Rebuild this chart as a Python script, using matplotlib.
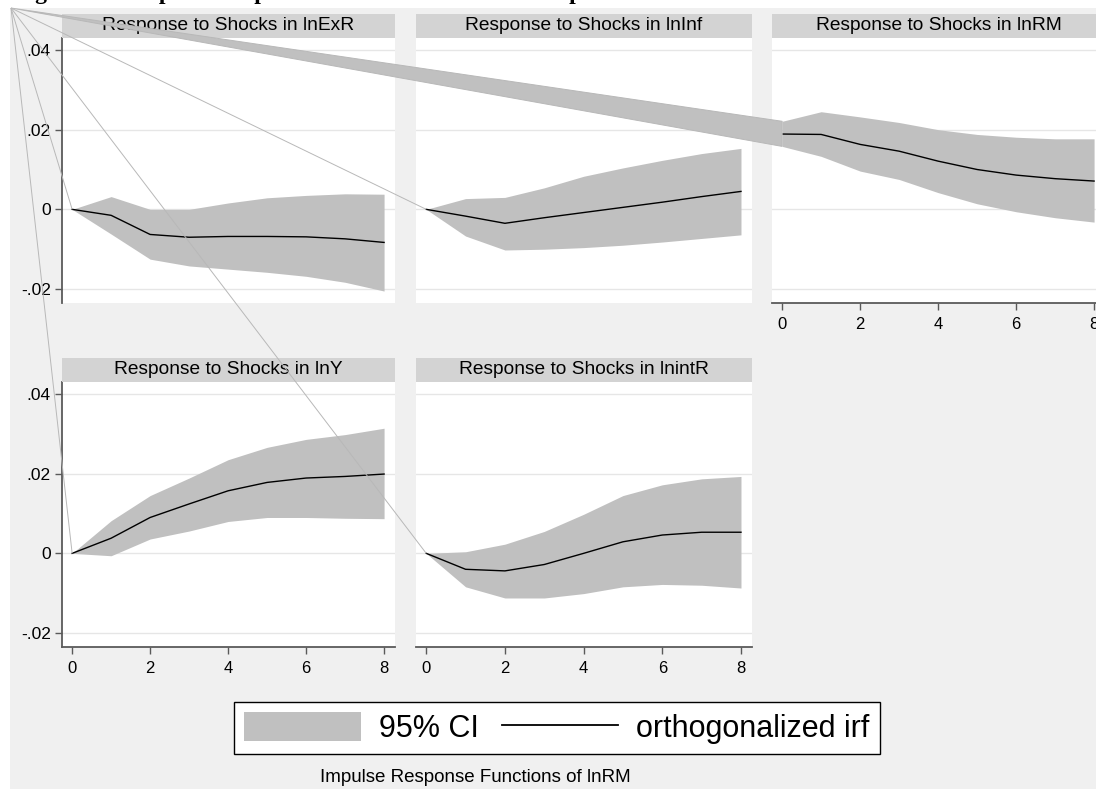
import matplotlib
matplotlib.use("Agg")
import matplotlib.pyplot as plt
from matplotlib.patches import Rectangle, Polygon, Patch
from matplotlib.lines import Line2D

plt.rcParams['font.family'] = ['Liberation Sans', 'DejaVu Sans']

W, H = 1096, 789

steps = [0, 1, 2, 3, 4, 5, 6, 7, 8]

# impulse = lnExR
lnExR_irf = [0, -0.0015, -0.0063, -0.0070, -0.0068, -0.0068, -0.0069, -0.0074, -0.0083]
lnExR_lo = [0, -0.0062, -0.0125, -0.0142, -0.0150, -0.0158, -0.0168, -0.0183, -0.0205]
lnExR_hi = [0, 0.0032, 0.0000, 0.0000, 0.0016, 0.0029, 0.0035, 0.0039, 0.0038]

# impulse = lnInf
lnInf_irf = [0, -0.0017, -0.0035, -0.0021, -0.0008, 0.0005, 0.0018, 0.0032, 0.0045]
lnInf_lo = [0, -0.0067, -0.0102, -0.0100, -0.0096, -0.0090, -0.0082, -0.0073, -0.0064]
lnInf_hi = [0, 0.0027, 0.0030, 0.0054, 0.0083, 0.0104, 0.0123, 0.0140, 0.0153]

# impulse = lnRM
lnRM_irf = [0.0189, 0.0188, 0.0163, 0.0146, 0.0121, 0.0100, 0.0086, 0.0077, 0.0071]
lnRM_lo = [0.0158, 0.0133, 0.0096, 0.0075, 0.0042, 0.0014, -0.0006, -0.0021, -0.0032]
lnRM_hi = [0.0221, 0.0245, 0.0232, 0.0218, 0.0200, 0.0188, 0.0181, 0.0177, 0.0177]

# impulse = lnY
lnY_irf = [0, 0.0038, 0.0090, 0.0124, 0.0157, 0.0178, 0.0189, 0.0193, 0.0199]
lnY_lo = [0, -0.0006, 0.0036, 0.0056, 0.0080, 0.0090, 0.0090, 0.0088, 0.0087]
lnY_hi = [0, 0.0082, 0.0145, 0.0189, 0.0235, 0.0266, 0.0286, 0.0298, 0.0314]

# impulse = lnintR
lnintR_irf = [0, -0.0040, -0.0044, -0.0028, 0.0000, 0.0029, 0.0046, 0.0053, 0.0053]
lnintR_lo = [0, -0.0084, -0.0112, -0.0112, -0.0101, -0.0084, -0.0078, -0.0080, -0.0087]
lnintR_hi = [0, 0.0004, 0.0023, 0.0055, 0.0098, 0.0145, 0.0172, 0.0187, 0.0193]

titles = ["Response to Shocks in lnExR", "Response to Shocks in lnInf",
          "Response to Shocks in lnRM", "Response to Shocks in lnY",
          "Response to Shocks in lnintR"]
yticks = [-0.02, 0, 0.02, 0.04]
ytick_labels = ["-.02", "0", ".02", ".04"]
xticks = [0, 2, 4, 6, 8]

BG = '#f0f0f0'
CI = '#c0c0c0'
STRIP = '#d3d3d3'
AXC = '#5a5a5a'


def frac(x, y):
    return x / W, 1 - y / H


# panel boxes in pixels: left, top, right, bottom, show y axis, show x axis
boxes = [(62, 38, 395, 303, True, False),
         (416, 38, 752, 303, False, False),
         (772, 38, 1105, 303, False, True),
         (62, 382, 395, 647, True, True),
         (416, 382, 752, 647, False, True)]
series = [(lnExR_irf, lnExR_lo, lnExR_hi),
          (lnInf_irf, lnInf_lo, lnInf_hi),
          (lnRM_irf, lnRM_lo, lnRM_hi),
          (lnY_irf, lnY_lo, lnY_hi),
          (lnintR_irf, lnintR_lo, lnintR_hi)]

fig = plt.figure(figsize=(W / 100, H / 100), dpi=100, facecolor='white')
fig.add_artist(Rectangle((10 / W, 0), 1, 1 - 8 / H, transform=fig.transFigure,
                         facecolor=BG, edgecolor='none', zorder=-10))

# cut-off document caption above the graph
fig.text(14 / W, 1 + 1 / H, "Figure 4.6: Impulse Response Functions of lnRM to Impulses",
         family=['Liberation Serif', 'DejaVu Serif'], weight='bold', fontsize=17,
         ha='left', va='baseline')

axes = []
for (l, t, r, b, showy, showx), (irf, lo, hi), title in zip(boxes, series, titles):
    x0, y0 = frac(l, b)
    ax = fig.add_axes([x0, y0, (r - l) / W, (b - t) / H])
    ax.set_facecolor('white')
    ax.fill_between(steps, lo, hi, color=CI, linewidth=0, zorder=2)
    ax.plot(steps, irf, color='black', linewidth=1.0, zorder=3)
    ax.set_xlim(-0.26, 8.28)
    ax.set_ylim(-0.0235, 0.043)
    ax.set_yticks(yticks)
    ax.set_xticks(xticks)
    ax.grid(axis='y', color='#e6e6e6', linewidth=1.0, zorder=1)
    for s in ['top', 'right']:
        ax.spines[s].set_visible(False)
    ax.spines['left'].set_visible(showy)
    ax.spines['bottom'].set_visible(showx)
    for s in ['left', 'bottom']:
        ax.spines[s].set_color(AXC)
        ax.spines[s].set_linewidth(1.3)
    if showy:
        ax.set_yticklabels(ytick_labels)
        ax.tick_params(axis='y', length=5, width=1, color=AXC, pad=3, labelsize=12.5)
    else:
        ax.tick_params(axis='y', left=False, labelleft=False)
    if showx:
        ax.tick_params(axis='x', length=5, width=1, color=AXC, pad=5, labelsize=12)
    else:
        ax.tick_params(axis='x', bottom=False, labelbottom=False)
    # title strip
    sh = 24 / (b - t)
    ax.add_patch(Rectangle((0, 1), 1, sh, transform=ax.transAxes, facecolor=STRIP,
                           edgecolor='none', clip_on=False, zorder=4))
    ax.text(0.5, 1 + sh / 2, title, transform=ax.transAxes, ha='center', va='center',
            fontsize=13.8, zorder=5, clip_on=False)
    axes.append(ax)

# stray outline segments running from the graph corner to each panel's step-0 band
corner = frac(11, 8)
to_fig = fig.transFigure.inverted()
for ax, (irf, lo, hi) in zip(axes, series):
    p_hi = to_fig.transform(ax.transData.transform((steps[0], hi[0])))
    p_lo = to_fig.transform(ax.transData.transform((steps[0], lo[0])))
    fig.add_artist(Polygon([corner, p_hi, p_lo], closed=True, transform=fig.transFigure,
                           facecolor=CI, edgecolor='#b8b8b8', linewidth=0.7, zorder=10))

handles = [Patch(facecolor=CI, edgecolor='none'),
           Line2D([], [], color='black', linewidth=1.3)]
leg = fig.legend(handles, ["95% CI", "orthogonalized irf"], loc='center',
                 bbox_to_anchor=((228 + 886) / 2 / W, 1 - 728 / H), ncol=2,
                 fontsize=22, frameon=True, fancybox=False, framealpha=1,
                 edgecolor='black', handlelength=3.8, handleheight=1.05,
                 handletextpad=0.6, columnspacing=0.75, borderpad=0.35)
leg.get_frame().set_linewidth(1.0)

fig.text(475 / W, 1 - 777 / H, "Impulse Response Functions of lnRM", ha='center',
         va='center', fontsize=13.5)

fig.savefig("out.png", dpi=100, facecolor=fig.get_facecolor())
